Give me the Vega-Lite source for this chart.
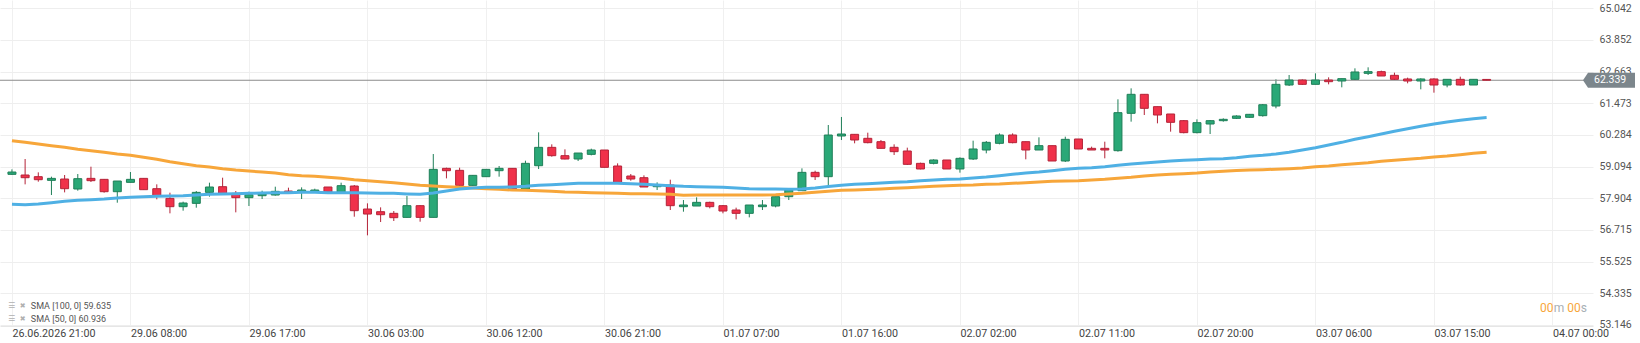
{
"$schema": "https://vega.github.io/schema/vega-lite/v6.json",
"width": 1593, "height": 326,
"autosize": {"type": "none"},
"padding": {"left": 0, "top": 0, "right": 47, "bottom": 17},
"background": "white",
"config": {"view": {"stroke": null}, "font": "Roboto"},
"datasets": {"candles": [
{"i":0,"o":58.805,"h":58.992,"l":58.790,"c":58.892,"s50":57.678,"s100":60.069},
{"i":1,"o":58.780,"h":59.381,"l":58.429,"c":58.679,"s50":57.665,"s100":60.007},
{"i":2,"o":58.717,"h":58.880,"l":58.529,"c":58.604,"s50":57.690,"s100":59.944},
{"i":3,"o":58.579,"h":58.717,"l":58.028,"c":58.654,"s50":57.740,"s100":59.881},
{"i":4,"o":58.629,"h":58.780,"l":58.128,"c":58.266,"s50":57.790,"s100":59.819},
{"i":5,"o":58.254,"h":58.817,"l":58.191,"c":58.642,"s50":57.828,"s100":59.744},
{"i":6,"o":58.654,"h":59.093,"l":58.517,"c":58.567,"s50":57.853,"s100":59.694},
{"i":7,"o":58.617,"h":58.630,"l":58.116,"c":58.153,"s50":57.878,"s100":59.631},
{"i":8,"o":58.153,"h":58.554,"l":57.740,"c":58.554,"s50":57.916,"s100":59.568},
{"i":9,"o":58.504,"h":58.892,"l":58.504,"c":58.617,"s50":57.941,"s100":59.518},
{"i":10,"o":58.654,"h":58.654,"l":58.229,"c":58.229,"s50":57.966,"s100":59.443},
{"i":11,"o":58.266,"h":58.429,"l":57.866,"c":58.003,"s50":57.978,"s100":59.368},
{"i":12,"o":57.903,"h":58.116,"l":57.340,"c":57.590,"s50":57.991,"s100":59.280},
{"i":13,"o":57.590,"h":57.778,"l":57.440,"c":57.728,"s50":58.003,"s100":59.205},
{"i":14,"o":57.715,"h":58.178,"l":57.552,"c":58.128,"s50":58.028,"s100":59.130},
{"i":15,"o":58.128,"h":58.492,"l":57.966,"c":58.329,"s50":58.053,"s100":59.080},
{"i":16,"o":58.341,"h":58.679,"l":58.028,"c":58.091,"s50":58.066,"s100":59.017},
{"i":17,"o":58.091,"h":58.178,"l":57.377,"c":57.928,"s50":58.078,"s100":58.967},
{"i":18,"o":57.928,"h":58.153,"l":57.615,"c":58.041,"s50":58.091,"s100":58.930},
{"i":19,"o":58.003,"h":58.191,"l":57.878,"c":58.066,"s50":58.103,"s100":58.892},
{"i":20,"o":58.028,"h":58.341,"l":58.003,"c":58.166,"s50":58.116,"s100":58.855},
{"i":21,"o":58.178,"h":58.304,"l":58.091,"c":58.128,"s50":58.116,"s100":58.792},
{"i":22,"o":58.141,"h":58.316,"l":57.878,"c":58.216,"s50":58.128,"s100":58.755},
{"i":23,"o":58.166,"h":58.266,"l":58.141,"c":58.216,"s50":58.128,"s100":58.729},
{"i":24,"o":58.329,"h":58.329,"l":58.141,"c":58.141,"s50":58.116,"s100":58.692},
{"i":25,"o":58.141,"h":58.492,"l":58.116,"c":58.379,"s50":58.116,"s100":58.654},
{"i":26,"o":58.366,"h":58.404,"l":57.214,"c":57.440,"s50":58.116,"s100":58.604},
{"i":27,"o":57.502,"h":57.715,"l":56.513,"c":57.314,"s50":58.103,"s100":58.567},
{"i":28,"o":57.402,"h":57.565,"l":57.014,"c":57.289,"s50":58.091,"s100":58.529},
{"i":29,"o":57.340,"h":57.427,"l":57.052,"c":57.177,"s50":58.090,"s100":58.492},
{"i":30,"o":57.189,"h":57.991,"l":57.177,"c":57.628,"s50":58.070,"s100":58.440},
{"i":31,"o":57.628,"h":57.640,"l":57.026,"c":57.189,"s50":58.053,"s100":58.391},
{"i":32,"o":57.189,"h":59.568,"l":57.189,"c":58.992,"s50":58.103,"s100":58.366},
{"i":33,"o":59.030,"h":59.055,"l":58.654,"c":58.942,"s50":58.179,"s100":58.341},
{"i":34,"o":58.955,"h":59.055,"l":58.316,"c":58.391,"s50":58.254,"s100":58.316},
{"i":35,"o":58.391,"h":58.780,"l":58.380,"c":58.767,"s50":58.291,"s100":58.291},
{"i":36,"o":58.717,"h":58.992,"l":58.717,"c":58.992,"s50":58.316,"s100":58.266},
{"i":37,"o":58.942,"h":59.118,"l":58.717,"c":59.030,"s50":58.316,"s100":58.241},
{"i":38,"o":59.030,"h":59.030,"l":58.216,"c":58.254,"s50":58.329,"s100":58.216},
{"i":39,"o":58.254,"h":59.318,"l":58.254,"c":59.218,"s50":58.354,"s100":58.204},
{"i":40,"o":59.130,"h":60.382,"l":59.005,"c":59.819,"s50":58.391,"s100":58.191},
{"i":41,"o":59.819,"h":59.932,"l":59.468,"c":59.506,"s50":58.417,"s100":58.166},
{"i":42,"o":59.506,"h":59.744,"l":59.368,"c":59.381,"s50":58.442,"s100":58.141},
{"i":43,"o":59.381,"h":59.606,"l":59.305,"c":59.606,"s50":58.467,"s100":58.128},
{"i":44,"o":59.556,"h":59.769,"l":59.518,"c":59.719,"s50":58.467,"s100":58.116},
{"i":45,"o":59.719,"h":59.719,"l":59.068,"c":59.068,"s50":58.467,"s100":58.103},
{"i":46,"o":59.118,"h":59.218,"l":58.504,"c":58.504,"s50":58.467,"s100":58.091},
{"i":47,"o":58.742,"h":58.817,"l":58.567,"c":58.629,"s50":58.454,"s100":58.078},
{"i":48,"o":58.679,"h":58.767,"l":58.329,"c":58.329,"s50":58.429,"s100":58.078},
{"i":49,"o":58.341,"h":58.504,"l":58.216,"c":58.391,"s50":58.404,"s100":58.066},
{"i":50,"o":58.404,"h":58.604,"l":57.465,"c":57.628,"s50":58.379,"s100":58.053},
{"i":51,"o":57.590,"h":57.840,"l":57.402,"c":57.653,"s50":58.354,"s100":58.016},
{"i":52,"o":57.615,"h":57.941,"l":57.615,"c":57.753,"s50":58.341,"s100":58.028},
{"i":53,"o":57.753,"h":57.778,"l":57.527,"c":57.590,"s50":58.329,"s100":58.028},
{"i":54,"o":57.628,"h":57.653,"l":57.340,"c":57.427,"s50":58.316,"s100":58.028},
{"i":55,"o":57.465,"h":57.553,"l":57.114,"c":57.340,"s50":58.291,"s100":58.028},
{"i":56,"o":57.340,"h":57.653,"l":57.189,"c":57.653,"s50":58.266,"s100":58.028},
{"i":57,"o":57.590,"h":57.840,"l":57.465,"c":57.653,"s50":58.254,"s100":58.028},
{"i":58,"o":57.615,"h":57.966,"l":57.565,"c":57.966,"s50":58.254,"s100":58.041},
{"i":59,"o":57.966,"h":58.241,"l":57.840,"c":58.216,"s50":58.241,"s100":58.066},
{"i":60,"o":58.191,"h":59.030,"l":58.191,"c":58.880,"s50":58.254,"s100":58.091},
{"i":61,"o":58.880,"h":58.942,"l":58.592,"c":58.717,"s50":58.291,"s100":58.128},
{"i":62,"o":58.717,"h":60.658,"l":58.366,"c":60.282,"s50":58.350,"s100":58.170},
{"i":63,"o":60.245,"h":60.960,"l":60.094,"c":60.320,"s50":58.395,"s100":58.205},
{"i":64,"o":60.308,"h":60.308,"l":59.970,"c":60.095,"s50":58.430,"s100":58.220},
{"i":65,"o":60.158,"h":60.370,"l":59.970,"c":59.995,"s50":58.455,"s100":58.235},
{"i":66,"o":60.032,"h":60.095,"l":59.782,"c":59.782,"s50":58.480,"s100":58.254},
{"i":67,"o":59.820,"h":59.932,"l":59.532,"c":59.657,"s50":58.505,"s100":58.279},
{"i":68,"o":59.682,"h":59.807,"l":59.156,"c":59.181,"s50":58.530,"s100":58.304},
{"i":69,"o":59.218,"h":59.243,"l":58.993,"c":59.006,"s50":58.567,"s100":58.329},
{"i":70,"o":59.218,"h":59.369,"l":59.181,"c":59.344,"s50":58.592,"s100":58.354},
{"i":71,"o":59.344,"h":59.344,"l":59.006,"c":59.006,"s50":58.617,"s100":58.380},
{"i":72,"o":59.006,"h":59.444,"l":58.868,"c":59.406,"s50":58.630,"s100":58.392},
{"i":73,"o":59.381,"h":60.070,"l":59.344,"c":59.757,"s50":58.668,"s100":58.405},
{"i":74,"o":59.719,"h":60.057,"l":59.594,"c":60.007,"s50":58.705,"s100":58.430},
{"i":75,"o":59.970,"h":60.345,"l":59.932,"c":60.283,"s50":58.755,"s100":58.442},
{"i":76,"o":60.283,"h":60.345,"l":59.970,"c":59.995,"s50":58.805,"s100":58.467},
{"i":77,"o":60.032,"h":60.032,"l":59.369,"c":59.719,"s50":58.855,"s100":58.492},
{"i":78,"o":59.719,"h":60.195,"l":59.719,"c":59.882,"s50":58.893,"s100":58.517},
{"i":79,"o":59.882,"h":59.882,"l":59.306,"c":59.306,"s50":58.943,"s100":58.542},
{"i":80,"o":59.306,"h":60.220,"l":59.269,"c":60.120,"s50":58.993,"s100":58.555},
{"i":81,"o":60.133,"h":60.133,"l":59.757,"c":59.757,"s50":59.031,"s100":58.567},
{"i":82,"o":59.782,"h":59.845,"l":59.719,"c":59.719,"s50":59.056,"s100":58.592},
{"i":83,"o":59.782,"h":60.032,"l":59.406,"c":59.719,"s50":59.093,"s100":58.617},
{"i":84,"o":59.694,"h":61.623,"l":59.657,"c":61.122,"s50":59.143,"s100":58.655},
{"i":85,"o":61.097,"h":62.036,"l":60.784,"c":61.811,"s50":59.193,"s100":58.693},
{"i":86,"o":61.811,"h":61.811,"l":61.034,"c":61.285,"s50":59.231,"s100":58.743},
{"i":87,"o":61.347,"h":61.347,"l":60.721,"c":61.034,"s50":59.269,"s100":58.780},
{"i":88,"o":61.072,"h":61.072,"l":60.408,"c":60.759,"s50":59.306,"s100":58.805},
{"i":89,"o":60.821,"h":60.846,"l":60.345,"c":60.371,"s50":59.331,"s100":58.830},
{"i":90,"o":60.371,"h":60.871,"l":60.345,"c":60.746,"s50":59.356,"s100":58.855},
{"i":91,"o":60.696,"h":60.846,"l":60.320,"c":60.821,"s50":59.381,"s100":58.893},
{"i":92,"o":60.821,"h":60.909,"l":60.784,"c":60.871,"s50":59.394,"s100":58.925},
{"i":93,"o":60.909,"h":61.022,"l":60.884,"c":60.997,"s50":59.431,"s100":58.950},
{"i":94,"o":60.947,"h":61.072,"l":60.934,"c":61.059,"s50":59.488,"s100":58.968},
{"i":95,"o":61.009,"h":61.447,"l":60.972,"c":61.420,"s50":59.519,"s100":58.980},
{"i":96,"o":61.372,"h":62.374,"l":61.285,"c":62.186,"s50":59.569,"s100":59.000},
{"i":97,"o":62.161,"h":62.537,"l":62.124,"c":62.349,"s50":59.632,"s100":59.018},
{"i":98,"o":62.349,"h":62.374,"l":62.161,"c":62.186,"s50":59.719,"s100":59.043},
{"i":99,"o":62.186,"h":62.599,"l":62.186,"c":62.349,"s50":59.807,"s100":59.093},
{"i":100,"o":62.349,"h":62.449,"l":62.186,"c":62.286,"s50":59.907,"s100":59.118},
{"i":101,"o":62.311,"h":62.399,"l":62.074,"c":62.399,"s50":60.007,"s100":59.168},
{"i":102,"o":62.374,"h":62.787,"l":62.349,"c":62.650,"s50":60.120,"s100":59.206},
{"i":103,"o":62.599,"h":62.825,"l":62.537,"c":62.662,"s50":60.220,"s100":59.244},
{"i":104,"o":62.662,"h":62.700,"l":62.499,"c":62.499,"s50":60.320,"s100":59.294},
{"i":105,"o":62.524,"h":62.625,"l":62.349,"c":62.374,"s50":60.421,"s100":59.331},
{"i":106,"o":62.387,"h":62.437,"l":62.224,"c":62.311,"s50":60.521,"s100":59.369},
{"i":107,"o":62.311,"h":62.412,"l":61.998,"c":62.387,"s50":60.608,"s100":59.407},
{"i":108,"o":62.387,"h":62.412,"l":61.873,"c":62.161,"s50":60.696,"s100":59.457},
{"i":109,"o":62.161,"h":62.374,"l":62.074,"c":62.374,"s50":60.771,"s100":59.494},
{"i":110,"o":62.374,"h":62.474,"l":62.136,"c":62.161,"s50":60.834,"s100":59.544},
{"i":111,"o":62.161,"h":62.374,"l":62.161,"c":62.374,"s50":60.896,"s100":59.594},
{"i":112,"o":62.370,"h":62.380,"l":62.330,"c":62.339,"s50":60.936,"s100":59.635}
]},
"layer": [
{"data": {"name": "candles"},
 "mark": {"type": "rule", "strokeWidth": 1},
 "encoding": {
  "x": {"field": "i", "type": "quantitative", "scale": {"domain": [-0.528, 119.7], "nice": false, "zero": false},
   "axis": {"orient": "bottom", "title": null, "values": [0,9,18,27,36,45,54,63,72,81,90,99,108,117], "tickCount": 60,
    "labelExpr": "['26.06.2026 21:00','29.06 08:00','29.06 17:00','30.06 03:00','30.06 12:00','30.06 21:00','01.07 07:00','01.07 16:00','02.07 02:00','02.07 11:00','02.07 20:00','03.07 06:00','03.07 15:00','04.07 00:00'][round(datum.value/9)]",
    "grid": true, "gridColor": "#f0f0f0", "gridWidth": 1, "ticks": false, "domain": true, "domainColor": "#e6e6e6",
    "labelAlign": "left", "labelBaseline": "middle", "labelPadding": 7, "labelFont": "Roboto", "labelFontSize": 10.7, "labelColor": "#444444",
    "labelBound": false, "labelOverlap": false, "labelFlush": false, "zindex": 0}},
  "y": {"field": "l", "type": "quantitative", "scale": {"domain": [53.108, 65.354], "nice": false, "zero": false},
   "axis": {"orient": "right", "title": null, "values": [53.146,54.335,55.525,56.715,57.904,59.094,60.284,61.473,62.663,63.852,65.042], "tickCount": 30,
    "labelExpr": "format(datum.value, '.3f')", "grid": true, "gridColor": "#eeeeee", "gridWidth": 1, "ticks": false, "domain": false,
    "labelAlign": "left", "labelBaseline": "middle", "labelPadding": 6, "labelFont": "Roboto", "labelFontSize": 10.5, "labelColor": "#555555",
    "labelBound": false, "labelOverlap": false, "labelFlush": false, "zindex": 0}},
  "y2": {"field": "h"},
  "color": {"condition": {"test": "datum.c >= datum.o", "value": "#1f7f58"}, "value": "#b42338"}}},
{"data": {"values": [{}]},
 "mark": {"type": "rule", "color": "#8c8c8c", "strokeWidth": 1},
 "encoding": {"y": {"datum": 62.339, "type": "quantitative"}}},
{"data": {"name": "candles"},
 "mark": {"type": "bar", "size": 8, "strokeWidth": 1},
 "encoding": {
  "x": {"field": "i", "type": "quantitative"},
  "y": {"field": "o", "type": "quantitative"},
  "y2": {"field": "c"},
  "fill": {"condition": {"test": "datum.c >= datum.o", "value": "#2aa877"}, "value": "#f0314a"},
  "stroke": {"condition": {"test": "datum.c >= datum.o", "value": "#1f7f58"}, "value": "#b42338"}}},
{"data": {"name": "candles"},
 "mark": {"type": "line", "color": "#f7a63a", "strokeWidth": 3},
 "encoding": {
  "x": {"field": "i", "type": "quantitative"},
  "y": {"field": "s100", "type": "quantitative"}}},
{"data": {"name": "candles"},
 "mark": {"type": "line", "color": "#4fb0e4", "strokeWidth": 3},
 "encoding": {
  "x": {"field": "i", "type": "quantitative"},
  "y": {"field": "s50", "type": "quantitative"}}},
{"data": {"values": [{}]},
 "mark": {"type": "point", "shape": "M-0.5,0L0,-0.75L4.7,-0.75L4.7,0.75L0,0.75Z", "size": 400, "filled": true, "fill": "#7c868c", "opacity": 1, "strokeWidth": 0},
 "encoding": {
  "x": {"datum": 119.7, "type": "quantitative"},
  "y": {"datum": 62.339, "type": "quantitative"}}},
{"data": {"values": [{}]},
 "mark": {"type": "text", "text": "62.339", "align": "left", "baseline": "middle", "dx": 6, "font": "Roboto", "fontSize": 10.5, "color": "#ffffff"},
 "encoding": {
  "x": {"datum": 119.7, "type": "quantitative"},
  "y": {"datum": 62.339, "type": "quantitative"}}},
{"data": {"values": [{}]},
 "mark": {"type": "text", "text": "☰", "align": "left", "baseline": "middle", "font": "DejaVu Sans", "fontSize": 8, "color": "#b0b0b0"},
 "encoding": {
  "x": {"datum": -0.3, "type": "quantitative"},
  "y": {"datum": 53.859, "type": "quantitative"}}},
{"data": {"values": [{}]},
 "mark": {"type": "text", "text": "✖", "align": "left", "baseline": "middle", "font": "DejaVu Sans", "fontSize": 7, "color": "#b0b0b0"},
 "encoding": {
  "x": {"datum": 0.6, "type": "quantitative"},
  "y": {"datum": 53.859, "type": "quantitative"}}},
{"data": {"values": [{}]},
 "mark": {"type": "text", "text": "SMA [100, 0] 59.635", "align": "left", "baseline": "middle", "font": "Roboto", "fontSize": 9, "color": "#555555"},
 "encoding": {
  "x": {"datum": 1.434, "type": "quantitative"},
  "y": {"datum": 53.859, "type": "quantitative"}}},
{"data": {"values": [{}]},
 "mark": {"type": "text", "text": "☰", "align": "left", "baseline": "middle", "font": "DejaVu Sans", "fontSize": 8, "color": "#b0b0b0"},
 "encoding": {
  "x": {"datum": -0.3, "type": "quantitative"},
  "y": {"datum": 53.370, "type": "quantitative"}}},
{"data": {"values": [{}]},
 "mark": {"type": "text", "text": "✖", "align": "left", "baseline": "middle", "font": "DejaVu Sans", "fontSize": 7, "color": "#b0b0b0"},
 "encoding": {
  "x": {"datum": 0.6, "type": "quantitative"},
  "y": {"datum": 53.370, "type": "quantitative"}}},
{"data": {"values": [{}]},
 "mark": {"type": "text", "text": "SMA [50, 0] 60.936", "align": "left", "baseline": "middle", "font": "Roboto", "fontSize": 9, "color": "#555555"},
 "encoding": {
  "x": {"datum": 1.434, "type": "quantitative"},
  "y": {"datum": 53.370, "type": "quantitative"}}},
{"data": {"values": [{}]},
 "mark": {"type": "text", "text": "s", "align": "right", "baseline": "middle", "dx": -1, "font": "Roboto", "fontSize": 12, "color": "#a8b0b5"},
 "encoding": {
  "x": {"datum": 119.7, "type": "quantitative"},
  "y": {"datum": 53.784, "type": "quantitative"}}},
{"data": {"values": [{}]},
 "mark": {"type": "text", "text": "00", "align": "right", "baseline": "middle", "dx": -7.3, "font": "Roboto", "fontSize": 12, "color": "#f7a63a"},
 "encoding": {
  "x": {"datum": 119.7, "type": "quantitative"},
  "y": {"datum": 53.784, "type": "quantitative"}}},
{"data": {"values": [{}]},
 "mark": {"type": "text", "text": "m", "align": "right", "baseline": "middle", "dx": -23.8, "font": "Roboto", "fontSize": 12, "color": "#a8b0b5"},
 "encoding": {
  "x": {"datum": 119.7, "type": "quantitative"},
  "y": {"datum": 53.784, "type": "quantitative"}}},
{"data": {"values": [{}]},
 "mark": {"type": "text", "text": "00", "align": "right", "baseline": "middle", "dx": -34.4, "font": "Roboto", "fontSize": 12, "color": "#f7a63a"},
 "encoding": {
  "x": {"datum": 119.7, "type": "quantitative"},
  "y": {"datum": 53.784, "type": "quantitative"}}}
]
}
